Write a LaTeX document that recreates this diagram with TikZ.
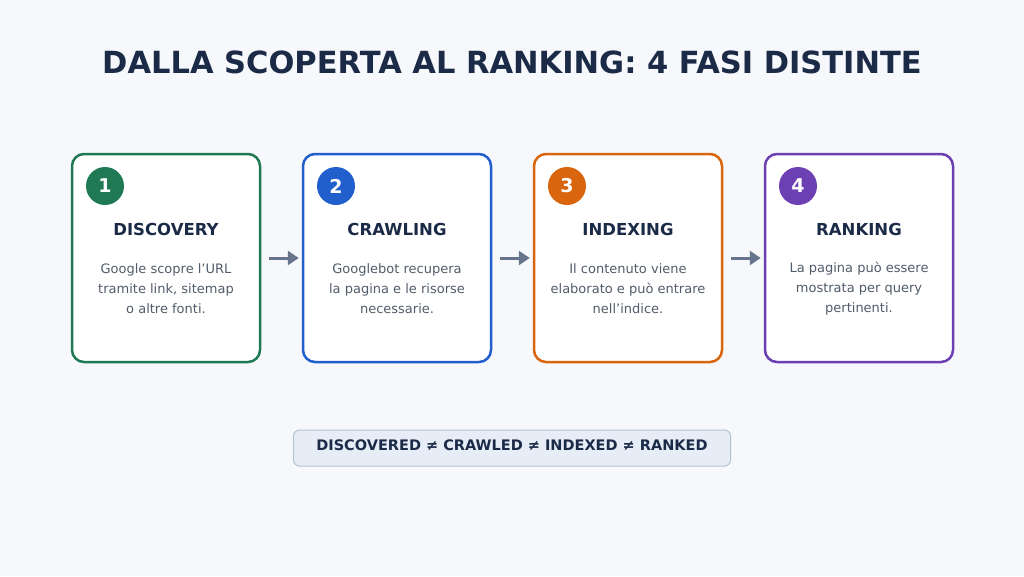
\documentclass[tikz,border=0pt]{standalone}
\usepackage{fontspec}
\setmainfont{DejaVu Sans}
\usetikzlibrary{arrows.meta,positioning,calc}
\definecolor{bgpage}{HTML}{F6F8FB}
\definecolor{navy}{HTML}{1B2A47}
\definecolor{bodygray}{HTML}{525C6A}
\definecolor{arrowgray}{HTML}{66758C}
\definecolor{cgreen}{HTML}{1F7A54}
\definecolor{cblue}{HTML}{2160CC}
\definecolor{corange}{HTML}{D9650F}
\definecolor{cpurple}{HTML}{6C3FB3}
\definecolor{notefill}{HTML}{E6EDF6}
\definecolor{noteline}{HTML}{B5C2D3}

\begin{document}
\begin{tikzpicture}[x=1pt, y=-1pt,
		card/.style = {draw=#1, fill=white, line width=2.5pt, rounded corners=12pt,
			minimum width=188pt, minimum height=208pt},
		badge/.style = {circle, fill=#1, text=white, minimum size=38pt, inner sep=0pt,
			font=\fontsize{19}{19}\selectfont\bfseries},
		phase/.style = {text=navy, font=\fontsize{16.5}{16.5}\selectfont\bfseries},
		desc/.style = {text=bodygray, align=center, font=\fontsize{13}{20}\selectfont},
		flow/.style = {draw=arrowgray, line width=3pt, -{Triangle[length=11pt, width=14pt]},
			shorten <=8pt, shorten >=3pt}]
		\useasboundingbox[fill=bgpage] (0,0) rectangle (1024,576);

		\node[text=navy, font=\fontsize{30.5}{30.5}\selectfont\bfseries] (title) at (512,62)
			{DALLA SCOPERTA AL RANKING: 4 FASI DISTINTE};

		% cards
		\node[card=cgreen] (D) at (166,258) {};
		\node[card=cblue, right=40.5pt of D] (C) {};
		\node[card=corange, right=40.5pt of C] (I) {};
		\node[card=cpurple, right=40.5pt of I] (R) {};

		\node[badge=cgreen] (nD) at ($(D) + (-61,-72)$) {1};
		\node[badge=cblue] (nC) at ($(C) + (-61,-72)$) {2};
		\node[badge=corange] (nI) at ($(I) + (-61,-72)$) {3};
		\node[badge=cpurple] (nR) at ($(R) + (-61,-72)$) {4};

		\node[phase] (hD) at ($(D) + (0,-29)$) {DISCOVERY};
		\node[phase] (hC) at ($(C) + (0,-29)$) {CRAWLING};
		\node[phase] (hI) at ($(I) + (0,-29)$) {INDEXING};
		\node[phase] (hR) at ($(R) + (0,-29)$) {RANKING};

		\node[desc] (tD) at ($(D) + (0,31)$) {Google scopre l’URL\\tramite link, sitemap\\o altre fonti.};
		\node[desc] (tC) at ($(C) + (0,31)$) {Googlebot recupera\\la pagina e le risorse\\necessarie.};
		\node[desc] (tI) at ($(I) + (0,31)$) {Il contenuto viene\\elaborato e può entrare\\nell’indice.};
		\node[desc] (tR) at ($(R) + (0,31)$) {La pagina può essere\\mostrata per query\\pertinenti.};

		% arrows
		\draw[flow] (D.east) -- (C.west);
		\draw[flow] (C.east) -- (I.west);
		\draw[flow] (I.east) -- (R.west);

		\node[draw=noteline, fill=notefill, line width=1pt, rounded corners=6pt,
			minimum width=437pt, minimum height=36pt] (note) at (512,448) {};
		\node[text=navy, font=\fontsize{14.5}{14.5}\selectfont\bfseries] (notetext) at (512,445)
			{DISCOVERED ≠ CRAWLED ≠ INDEXED ≠ RANKED};
	\end{tikzpicture}
\end{document}
